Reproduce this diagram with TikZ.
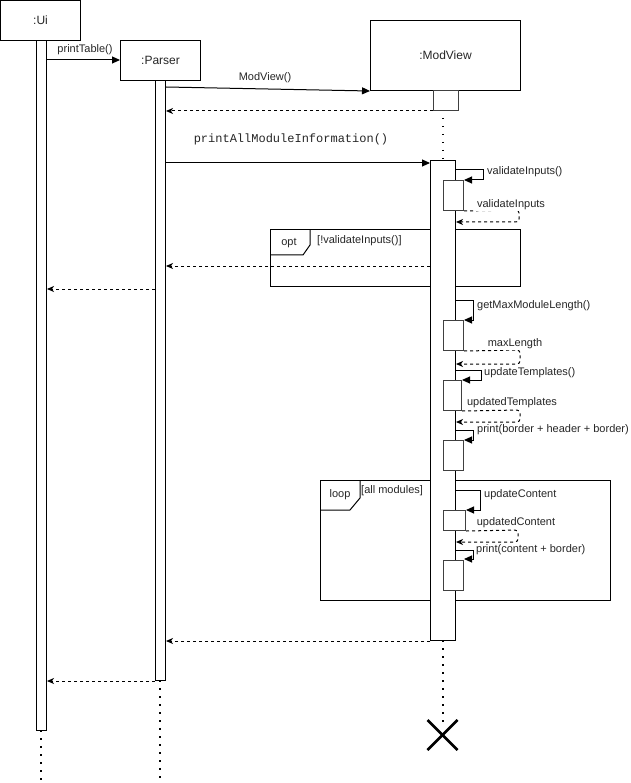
\documentclass[tikz,border=0pt]{standalone}
\usepackage{fontspec}
\setmainfont{Liberation Sans}
\newfontfamily\codefont{Liberation Mono}
\usetikzlibrary{arrows.meta}
\begin{document}
\begin{tikzpicture}[x=1pt,y=-1pt,
 font=\fontsize{11}{13}\selectfont,
 box/.style={draw, line width=1pt, fill=white, inner sep=0pt, anchor=north west, font=\fontsize{12}{14}\selectfont, text=black!85},
 act/.style={draw, line width=1pt, fill=white, inner sep=0pt, anchor=north west},
 sact/.style={draw=black!75, line width=1pt, fill=white, inner sep=0pt, anchor=north west},
 msg/.style={line width=1pt, -{Triangle[length=8pt,width=7pt]}},
 ret/.style={line width=1pt, dash pattern=on 3pt off 3pt, rounded corners=3pt, -{Stealth[length=7pt,width=6pt,inset=2pt]}},
 life/.style={line width=1.5pt, dash pattern=on 1.5pt off 6.5pt},
 lbl/.style={inner sep=1pt, text=black!85},
 frm/.style={draw, line width=1pt}
]
\path[use as bounding box] (0,0) rectangle (630,783);

% headers
\node[box, minimum width=80, minimum height=40] (ui) at (0,0) {:Ui};
\node[box, minimum width=80, minimum height=40] (parser) at (120,40) {:Parser};
\node[box, minimum width=150, minimum height=70] (mv) at (370,20) {:ModView};

% lifeline ends
\coordinate (uiEnd) at (41,783);
\coordinate (pEnd) at (160,783);
\coordinate (mvTop) at (443,110);
\coordinate (mvMid) at (443,160);
\coordinate (mvBot) at (443,640);
\coordinate (mvX) at (443,726);

\draw[life] (41,730) -- (uiEnd);
\draw[life] (160,680) -- (pEnd);
\draw[life] (mvTop) -- (mvMid);
\draw[life] (mvBot) -- (mvX);

% destroy mark
\coordinate (xc) at (442.5,735);
\draw[line width=2.5pt] ([shift={(-15,-15)}]xc) -- ([shift={(15,15)}]xc);
\draw[line width=2.5pt] ([shift={(-15,15)}]xc) -- ([shift={(15,-15)}]xc);

% frames
\draw[frm] (270,230) rectangle (520,286);
\draw[frm] (270,255) -- (303,255) -- (310,245) -- (310,230);
\node[lbl] (optl) at (289,243) {opt};
\node[lbl, anchor=west] (optg) at (316,241) {[!validateInputs()]};

\draw[frm] (320,480) rectangle (610,600);
\draw[frm] (320,510) -- (350,510) -- (360,498) -- (360,480);
\node[lbl] (loopl) at (340,495) {loop};
\node[lbl, anchor=west] (loopg) at (360,491) {[all modules]};

% activations
\node[act, minimum width=10, minimum height=690] (uiA) at (36,40) {};
\node[act, minimum width=10, minimum height=600] (pA) at (155,80) {};
\node[sact, minimum width=25, minimum height=20] (mvA0) at (433,90) {};
\node[act, minimum width=25, minimum height=480] (mvA) at (430,160) {};
\node[sact, minimum width=20, minimum height=30] (s1) at (443,180) {};
\node[sact, minimum width=20, minimum height=30] (s2) at (443,320) {};
\node[sact, minimum width=18, minimum height=30] (s3) at (443,380) {};
\node[sact, minimum width=20, minimum height=30] (s4) at (443,440) {};
\node[sact, minimum width=22, minimum height=20] (s5) at (443,510) {};
\node[sact, minimum width=20, minimum height=30] (s6) at (443,560) {};

% messages
\draw[msg] (uiA.east |- 0,60) -- (parser.west |- 0,60);
\node[lbl] (m1) at (85,50) {printTable()};

\draw[msg] (pA.east |- 0,87) -- (mv.south west);
\node[lbl] (m2) at (265,78) {ModView()};
\draw[ret] (mvA0.south west) -- (pA.east |- mvA0.south west);

\draw[msg] (pA.east |- 0,163) -- (mvA.west |- 0,163);
\node[lbl] (m3) at (291,139) {\codefont\fontsize{12}{14}\selectfont printAllModuleInformation()};

% self call 1
\draw[msg] (mvA.east |- 0,170) -- (483,170) -- (483,180) -- (s1.north east);
\node[lbl, anchor=west] (l1) at (486,172) {validateInputs()};
\draw[ret] (s1.south east) -- (519,210) -- (519,222) -- (mvA.east |- 0,222);
\node[lbl, fill=white] (r1) at (511,205) {validateInputs};

\draw[ret] (mvA.west |- 0,266) -- (pA.east |- 0,266);
\draw[ret] (pA.west |- 0,289) -- (uiA.east |- 0,289);

% self call 2
\draw[msg] (mvA.east |- 0,300) -- (473,300) -- (473,320) -- (s2.north east);
\node[lbl, anchor=west] (l2) at (476,306) {getMaxModuleLength()};
\draw[ret] (s2.south east) -- (520,350) -- (520,364) -- (mvA.east |- 0,364);
\node[lbl, fill=white] (r2) at (515,344) {maxLength};

% self call 3
\draw[msg] (mvA.east |- 0,370) -- (481,370) -- (481,380) -- (s3.north east);
\node[lbl, anchor=west] (l3) at (483,373) {updateTemplates()};
\draw[ret] (s3.south east) -- (520,410) -- (520,422) -- (mvA.east |- 0,422);
\node[lbl, fill=white] (r3) at (512,403) {updatedTemplates};

% self call 4
\draw[msg] (mvA.east |- 0,430) -- (473,430) -- (473,440) -- (s4.north east);
\node[lbl, anchor=west] (l4) at (476,430) {print(border + header + border)};

% self call 5
\draw[msg] (mvA.east |- 0,490) -- (480,490) -- (480,510) -- (s5.north east);
\node[lbl, anchor=west] (l5) at (483,495) {updateContent};
\draw[ret] (s5.south east) -- (518,530) -- (518,542) -- (mvA.east |- 0,542);
\node[lbl, fill=white] (r5) at (516,523) {updatedContent};

% self call 6
\draw[msg] (mvA.east |- 0,550) -- (473,550) -- (473,559) -- (s6.north east |- 0,559);
\node[lbl, anchor=west] (l6) at (475,550) {print(content + border)};

% final returns
\draw[ret] (mvA.south west) -- (pA.east |- mvA.south west);
\draw[ret] (pA.south west) -- (uiA.east |- pA.south west);
\end{tikzpicture}
\end{document}
